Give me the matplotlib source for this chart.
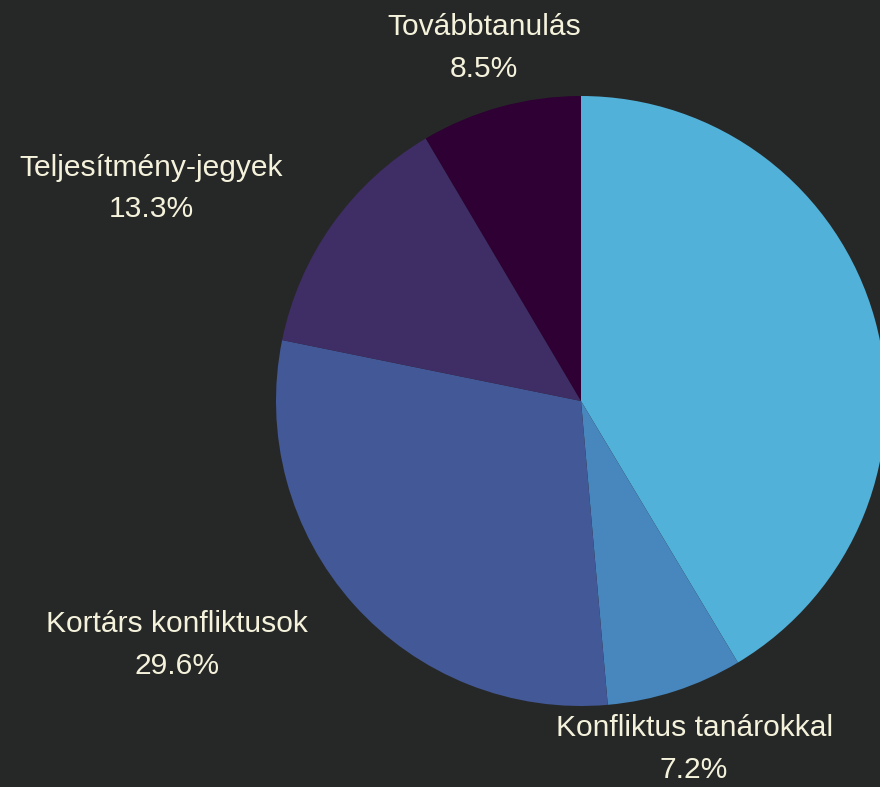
import numpy as np
import matplotlib.pyplot as plt

# slices clockwise from 12 o'clock
labels = ['Egyéb', 'Konfliktus tanárokkal', 'Kortárs konfliktusok',
          'Teljesítmény-jegyek', 'Továbbtanulás']
shares = [41.4, 7.2, 29.6, 13.3, 8.5]
colours = ['#51b1d9', '#4787bd', '#435896', '#3f2d66', '#2e0033']

BG = '#262828'
TXT = '#f5f2dc'
plt.rcParams['font.family'] = ['Liberation Sans', 'DejaVu Sans']

fig = plt.figure(figsize=(8.8, 7.87), dpi=100, facecolor=BG)
ax = fig.add_axes([0, 0, 1, 1])
ax.set_facecolor(BG)

wedges, _ = ax.pie(shares, colors=colours, startangle=90, counterclock=False,
                   radius=1.0, wedgeprops=dict(linewidth=0))

# pie centre at (581, 401) px, radius 305 px -> right edge is cropped like the original
s = 305.0
xmax = (880 - 581) / s

for w, lab, val in zip(wedges, labels, shares):
    mid = np.deg2rad((w.theta1 + w.theta2) / 2)
    x, y = 1.2 * np.cos(mid), 1.2 * np.sin(mid)
    if x > xmax:
        continue  # label falls outside the visible frame
    if abs(np.cos(mid)) < 0.5:
        ha = 'center'
    else:
        ha = 'right' if x < 0 else 'left'
    ax.text(x, y, f'{lab}\n{val}%', ha=ha, va='center', multialignment='center',
            color=TXT, fontsize=21.6, linespacing=1.62)

ax.set_xlim(-581 / s, xmax)
ax.set_ylim(-(787 - 401) / s, 401 / s)
ax.set_aspect('auto')
ax.axis('off')

fig.savefig('out.png', facecolor=BG)
